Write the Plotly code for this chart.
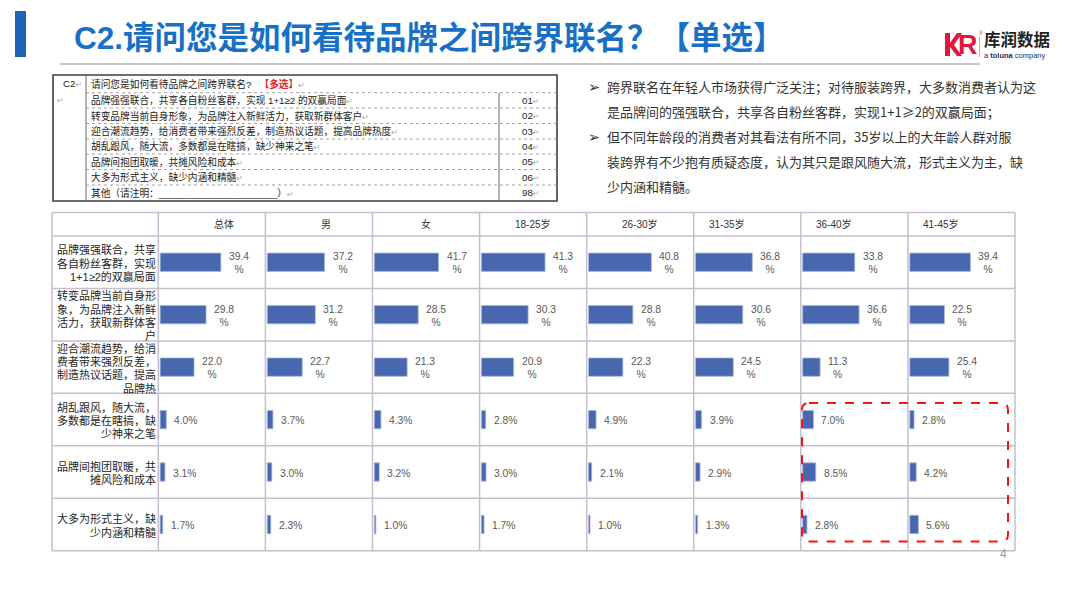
import plotly.graph_objects as go

W, H = 1080, 608
def px(x):
    return x / W
def py(y):
    return 1 - y / H

FONT = "Liberation Sans, Noto Sans CJK SC, DejaVu Sans"

# ---------------- data ----------------
title_text = "C2.请问您是如何看待品牌之间跨界联名？【单选】"

groups = ["总体", "男", "女", "18-25岁", "26-30岁", "31-35岁", "36-40岁", "41-45岁"]

options = [
    "品牌强强联合，共享<br>各自粉丝客群，实现<br>1+1≥2的双赢局面",
    "转变品牌当前自身形<br>象，为品牌注入新鲜<br>活力，获取新群体客<br>户",
    "迎合潮流趋势，给消<br>费者带来强烈反差，<br>制造热议话题，提高<br>品牌热",
    "胡乱跟风，随大流，<br>多数都是在瞎搞，缺<br>少神来之笔",
    "品牌间抱团取暖，共<br>摊风险和成本",
    "大多为形式主义，缺<br>少内涵和精髓",
]

v_total = [39.4, 29.8, 22.0, 4.0, 3.1, 1.7]
v_male = [37.2, 31.2, 22.7, 3.7, 3.0, 2.3]
v_female = [41.7, 28.5, 21.3, 4.3, 3.2, 1.0]
v_18_25 = [41.3, 30.3, 20.9, 2.8, 3.0, 1.7]
v_26_30 = [40.8, 28.8, 22.3, 4.9, 2.1, 1.0]
v_31_35 = [36.8, 30.6, 24.5, 3.9, 2.9, 1.3]
v_36_40 = [33.8, 36.6, 11.3, 7.0, 8.5, 2.8]
v_41_45 = [39.4, 22.5, 25.4, 2.8, 4.2, 5.6]
series = [v_total, v_male, v_female, v_18_25, v_26_30, v_31_35, v_36_40, v_41_45]

question_head = "请问您是如何看待品牌之间跨界联名?"
question_options = [
    "品牌强强联合，共享各自粉丝客群，实现 1+1≥2 的双赢局面",
    "转变品牌当前自身形象，为品牌注入新鲜活力，获取新群体客户",
    "迎合潮流趋势，给消费者带来强烈反差，制造热议话题，提高品牌热度",
    "胡乱跟风，随大流，多数都是在瞎搞，缺少神来之笔",
    "品牌间抱团取暖，共摊风险和成本",
    "大多为形式主义，缺少内涵和精髓",
    "其他（请注明：______________________）",
]
question_codes = ["01", "02", "03", "04", "05", "06", "98"]

bullet_lines = [
    ("➢", "跨界联名在年轻人市场获得广泛关注；对待服装跨界，大多数消费者认为这"),
    ("", "是品牌间的强强联合，共享各自粉丝客群，实现1+1≥2的双赢局面；"),
    ("➢", "但不同年龄段的消费者对其看法有所不同，35岁以上的大年龄人群对服"),
    ("", "装跨界有不少抱有质疑态度，认为其只是跟风随大流，形式主义为主，缺"),
    ("", "少内涵和精髓。"),
]

# ---------------- layout geometry (pixels) ----------------
tbl_left, tbl_right = 52, 1015
col0 = 158.3
col_w = (tbl_right - col0) / len(groups)
hdr_top, hdr_bot, body_bot = 212.5, 236, 550.7
x_range = [-1.2, 68.3]

BAR_COLOR = "#4767AE"
GRID = "#C6BECE"

fig = go.Figure()
layout_axes = {}
annotations = []
shapes = []

for k, (g, vals) in enumerate(zip(groups, series)):
    xa = "x" if k == 0 else f"x{k+1}"
    fig.add_trace(go.Bar(
        x=vals, y=options, orientation="h", xaxis=xa, yaxis="y",
        width=0.35, marker=dict(color=BAR_COLOR, line=dict(color="#A9B8DC", width=0.8)),
        hoverinfo="skip", showlegend=False,
    ))
    d0 = px(col0 + k * col_w)
    d1 = px(col0 + (k + 1) * col_w)
    layout_axes["xaxis" if k == 0 else f"xaxis{k+1}"] = dict(
        domain=[d0, d1], range=x_range, visible=False, anchor="y", fixedrange=True)
    # header
    annotations.append(dict(
        x=(d0 + d1) / 2, y=py((hdr_top + hdr_bot) / 2), xref="paper", yref="paper",
        text=g, showarrow=False, font=dict(family=FONT, size=10, color="#333333")))
    # value labels
    for i, v in enumerate(vals):
        txt = f"{v:.1f}<br>%" if i < 3 else f"{v:.1f}%"
        annotations.append(dict(
            x=v, y=options[i], xref=xa, yref="y", xanchor="left", xshift=6, yshift=-1,
            text=txt, showarrow=False, align="center",
            font=dict(family=FONT, size=10.3, color="#595959")))

# row labels (one annotation per wrapped line, right aligned in the label column)
LINE_H = 13.3
for opt in options:
    parts = opt.split("<br>")
    n = len(parts)
    for j, part in enumerate(parts):
        annotations.append(dict(
            x=px(157.5), y=opt, xref="paper", yref="y", xanchor="right", yanchor="middle",
            yshift=((n - 1) / 2 - j) * LINE_H - 1, text=part, showarrow=False,
            font=dict(family=FONT, size=11, color="#262626")))

# grid: vertical lines
for xb in [tbl_left] + [col0 + k * col_w for k in range(len(groups) + 1)]:
    shapes.append(dict(type="line", xref="paper", yref="paper",
                       x0=px(xb), x1=px(xb), y0=py(hdr_top), y1=py(body_bot),
                       line=dict(color=GRID, width=1.5)))
# grid: horizontal lines
for yb in [hdr_top, hdr_bot, body_bot]:
    shapes.append(dict(type="line", xref="paper", yref="paper",
                       x0=px(tbl_left), x1=px(tbl_right), y0=py(yb), y1=py(yb),
                       line=dict(color=GRID, width=1.5)))
for i in range(len(options) - 1):
    shapes.append(dict(type="line", xref="paper", yref="y",
                       x0=px(tbl_left), x1=px(tbl_right), y0=i + 0.5, y1=i + 0.5,
                       line=dict(color=GRID, width=1.5)))

# red dashed rounded highlight
x0, x1, y0, y1, r = 802, 1008, 403, 541.5, 7
rx, ry = r / W, r / H
X0, X1, Y0, Y1 = px(x0), px(x1), py(y0), py(y1)
path = (f"M {X0+rx},{Y0} L {X1-rx},{Y0} Q {X1},{Y0} {X1},{Y0-ry} "
        f"L {X1},{Y1+ry} Q {X1},{Y1} {X1-rx},{Y1} L {X0+rx},{Y1} "
        f"Q {X0},{Y1} {X0},{Y1+ry} L {X0},{Y0-ry} Q {X0},{Y0} {X0+rx},{Y0} Z")
shapes.append(dict(type="path", xref="paper", yref="paper", path=path,
                   line=dict(color="#FF1010", width=2, dash="dash")))

# ---------------- header area ----------------
shapes.append(dict(type="rect", xref="paper", yref="paper",
                   x0=px(15), x1=px(26), y0=py(11), y1=py(57),
                   fillcolor="#1E63B6", line=dict(width=0)))
shapes.append(dict(type="line", xref="paper", yref="paper",
                   x0=px(60), x1=px(980), y0=py(64), y1=py(64),
                   line=dict(color="#B4B4B4", width=1.5)))
annotations.append(dict(x=px(72), y=py(38), xref="paper", yref="paper",
                        xanchor="left", yanchor="middle", showarrow=False,
                        text=f"<b>{title_text}</b>",
                        font=dict(family=FONT, size=31.5, color="#1770C6")))
# logo
shapes.append(dict(type="path", xref="paper", yref="paper",
                   path=(f"M {px(945)},{py(33)} L {px(950)},{py(33)} L {px(950)},{py(43)} "
                         f"L {px(957)},{py(33)} L {px(962)},{py(33)} L {px(954)},{py(45)} "
                         f"L {px(962)},{py(56)} L {px(957)},{py(56)} L {px(950)},{py(47)} "
                         f"L {px(950)},{py(56)} L {px(945)},{py(56)} Z"),
                   fillcolor="#E3173E", line=dict(width=0)))
annotations.append(dict(x=px(956), y=py(45), xref="paper", yref="paper",
                        xanchor="left", yanchor="middle", showarrow=False,
                        text="<b>R</b>",
                        font=dict(family=FONT, size=27, color="#E3173E")))
annotations.append(dict(x=px(977), y=py(33), xref="paper", yref="paper",
                        xanchor="left", yanchor="middle", showarrow=False,
                        text="®", font=dict(family=FONT, size=5, color="#E3173E")))
shapes.append(dict(type="line", xref="paper", yref="paper",
                   x0=px(979.5), x1=px(979.5), y0=py(37), y1=py(57),
                   line=dict(color="#9A9A9A", width=0.8)))
annotations.append(dict(x=px(982), y=py(40), xref="paper", yref="paper",
                        xanchor="left", yanchor="middle", showarrow=False,
                        text="<b>库润数据</b>", font=dict(family=FONT, size=16.5, color="#222222")))
annotations.append(dict(x=px(982), y=py(55), xref="paper", yref="paper",
                        xanchor="left", yanchor="middle", showarrow=False,
                        text="a <b>toluna</b> company", font=dict(family=FONT, size=7.5, color="#1D2B64")))

# ---------------- question table ----------------
q_left, q_right, q_top, q_bot = 53, 557, 75, 201
q_col1, q_col2 = 86, 499
q_rows = [92.7, 108, 123.5, 139, 154, 169.5, 185]
shapes.append(dict(type="rect", xref="paper", yref="paper",
                   x0=px(q_left), x1=px(q_right), y0=py(q_top), y1=py(q_bot),
                   line=dict(color="#404040", width=1.6)))
shapes.append(dict(type="line", xref="paper", yref="paper",
                   x0=px(q_col1), x1=px(q_col1), y0=py(q_top), y1=py(q_bot),
                   line=dict(color="#555555", width=0.9)))
shapes.append(dict(type="line", xref="paper", yref="paper",
                   x0=px(q_col2), x1=px(q_col2), y0=py(q_rows[0]), y1=py(q_bot),
                   line=dict(color="#555555", width=0.9)))
for yy in q_rows:
    shapes.append(dict(type="line", xref="paper", yref="paper",
                       x0=px(q_col1), x1=px(q_right), y0=py(yy), y1=py(yy),
                       line=dict(color="#8A8A8A", width=0.8, dash="dot")))
QF = dict(family=FONT, size=9.7, color="#222222")
RET = "<span style='color:#A8A8A8;font-size:8px'>↵</span>"
annotations.append(dict(x=px(q_col1 - 2), y=py((q_top + q_rows[0]) / 2), xref="paper", yref="paper",
                        xanchor="right", yanchor="middle", showarrow=False,
                        text="C2" + RET, font=QF))
annotations.append(dict(x=px(q_col1 + 3), y=py((q_top + q_rows[0]) / 2), xref="paper", yref="paper",
                        xanchor="left", yanchor="middle", showarrow=False,
                        text=question_head + "   <span style='color:#E3202A'><b>【多选】</b></span>" + RET,
                        font=QF))
annotations.append(dict(x=px(q_left + 2), y=py(100), xref="paper", yref="paper",
                        xanchor="left", yanchor="middle", showarrow=False,
                        text=RET, font=QF))
row_edges = q_rows + [q_bot]
for i, (t, c) in enumerate(zip(question_options, question_codes)):
    yc = (row_edges[i] + row_edges[i + 1]) / 2
    annotations.append(dict(x=px(q_col1 + 3), y=py(yc), xref="paper", yref="paper",
                            xanchor="left", yanchor="middle", showarrow=False,
                            text=t + RET, font=QF))
    annotations.append(dict(x=px((q_col2 + q_right) / 2 + 2), y=py(yc), xref="paper", yref="paper",
                            xanchor="center", yanchor="middle", showarrow=False,
                            text=c + RET, font=QF))

# ---------------- bullets ----------------
BF = dict(family="Noto Sans CJK SC, DejaVu Sans", size=13, color="#333333")
for j, (b, t) in enumerate(bullet_lines):
    yc = 87 + j * 24.8
    if b:
        annotations.append(dict(x=px(586), y=py(yc), xref="paper", yref="paper",
                                xanchor="left", yanchor="middle", showarrow=False,
                                text=b, font=dict(family="DejaVu Sans", size=14.5, color="#333333")))
    annotations.append(dict(x=px(605), y=py(yc), xref="paper", yref="paper",
                            xanchor="left", yanchor="middle", showarrow=False,
                            text=t, font=BF))

# page number
annotations.append(dict(x=px(1003), y=py(554), xref="paper", yref="paper",
                        xanchor="center", yanchor="middle", showarrow=False,
                        text="4", font=dict(family=FONT, size=12, color="#9A9A9A")))

fig.update_layout(
    width=W, height=H, margin=dict(l=0, r=0, t=0, b=0),
    paper_bgcolor="white", plot_bgcolor="rgba(0,0,0,0)",
    bargap=0.65, showlegend=False,
    yaxis=dict(domain=[py(body_bot), py(hdr_bot)], anchor="x", type="category",
               categoryorder="array", categoryarray=options, autorange="reversed",
               showgrid=False, zeroline=False, showline=False, ticks="",
               showticklabels=False, fixedrange=True),
    annotations=annotations, shapes=shapes,
    **layout_axes,
)

fig.write_html("out.html", config={"displayModeBar": False, "staticPlot": True},
               post_script="document.body.style.margin='0';")
